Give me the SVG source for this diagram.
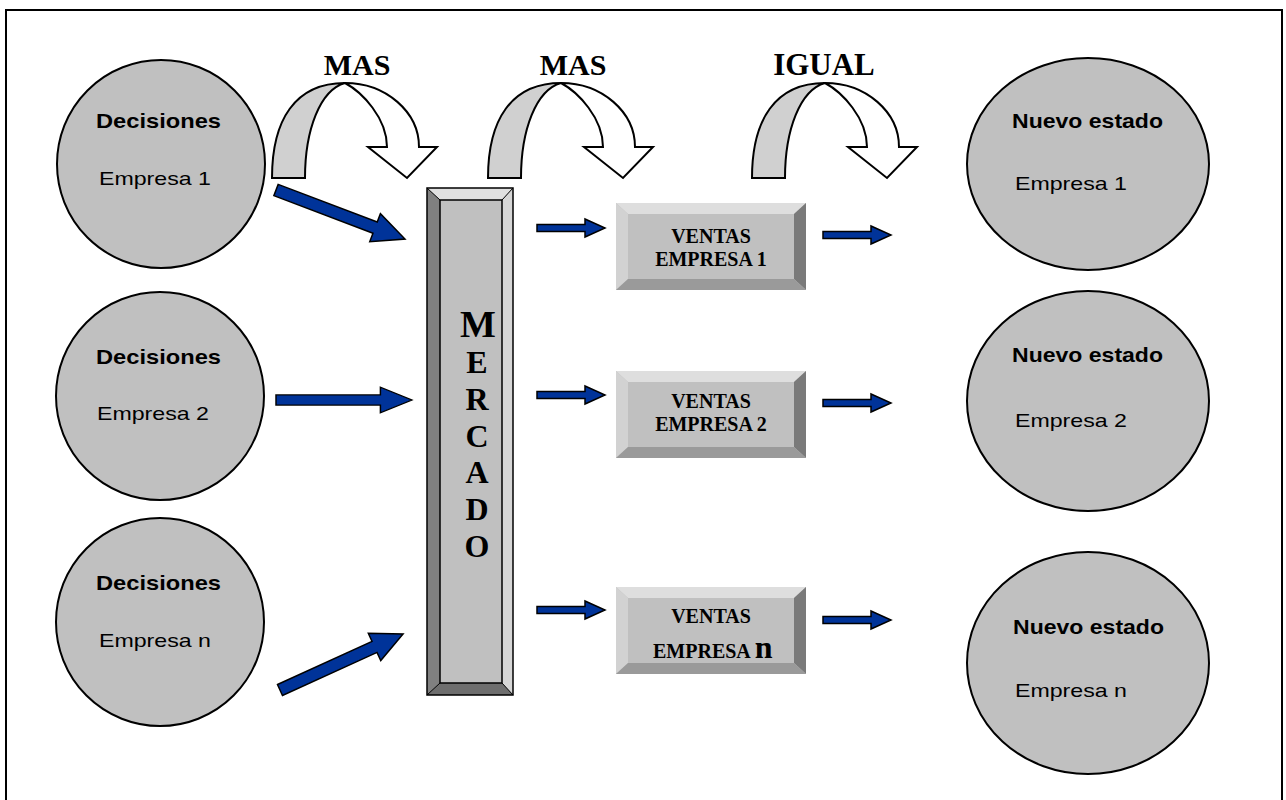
<svg xmlns="http://www.w3.org/2000/svg" width="1286" height="800" viewBox="0 0 1286 800">
<style>
.circ{fill:#c0c0c0;stroke:#000;stroke-width:2}
.sans{font-family:"Liberation Sans",Arial,sans-serif;fill:#000}
.b{font-weight:bold}
.serif{font-family:"Liberation Serif","Times New Roman",serif;font-weight:bold;fill:#000}
.arrow{fill:#003399;stroke:#000;stroke-width:1.5;stroke-linejoin:miter}
.cgray{fill:#d0d0d0;stroke:#000;stroke-width:2}
.cwhite{fill:#fff;stroke:#000;stroke-width:2;stroke-linejoin:miter}
</style>
<defs>
<path id="bigArrow" d="M0,-6 L106,-6 L106,-15 L138,0 L106,15 L106,6 L0,6 Z"/>
<path id="smallArrow" d="M0,-3.5 L48,-3.5 L48,-9 L68,0 L48,9 L48,3.5 L0,3.5 Z"/>
<g id="curveArrow">
<path class="cgray" d="M272,178 C272,120 295,83 345,83 C320,90 305,130 305,178 Z"/>
<path class="cwhite" d="M345,83 C386,83 419,112 419,147 L437,147 L407,178 L368,147 L387,147 C387,118 362,92 345,83 Z"/>
</g>
<g id="ventasBox">
<rect x="0" y="0" width="190" height="87" fill="#c0c0c0"/>
<polygon points="0,0 190,0 178,11 12,11" fill="#dedede"/>
<polygon points="0,0 12,11 12,76 0,87" fill="#d2d2d2"/>
<polygon points="190,0 190,87 178,76 178,11" fill="#7a7a7a"/>
<polygon points="0,87 190,87 178,76 12,76" fill="#9a9a9a"/>
</g>
</defs>
<rect x="0" y="0" width="1286" height="800" fill="#fff"/>
<rect id="frame" x="6" y="10" width="1276" height="820" fill="none" stroke="#000" stroke-width="2"/>

<g id="curve-mas-1"><use href="#curveArrow"/><text class="serif" x="357" y="75" font-size="30" text-anchor="middle">MAS</text></g>
<g id="curve-mas-2"><use href="#curveArrow" transform="translate(216,0)"/><text class="serif" x="573" y="75" font-size="30" text-anchor="middle">MAS</text></g>
<g id="curve-igual"><use href="#curveArrow" transform="translate(480,0)"/><text class="serif" x="824" y="75" font-size="31" text-anchor="middle">IGUAL</text></g>

<g id="decisiones-1"><circle class="circ" cx="161" cy="164" r="104"/>
<text class="sans b" x="96" y="128" font-size="21" textLength="125" lengthAdjust="spacingAndGlyphs">Decisiones</text>
<text class="sans" x="99" y="185" font-size="19" textLength="112" lengthAdjust="spacingAndGlyphs">Empresa 1</text></g>
<g id="decisiones-2"><circle class="circ" cx="160" cy="396" r="104"/>
<text class="sans b" x="96" y="364" font-size="21" textLength="125" lengthAdjust="spacingAndGlyphs">Decisiones</text>
<text class="sans" x="97" y="420" font-size="19" textLength="112" lengthAdjust="spacingAndGlyphs">Empresa 2</text></g>
<g id="decisiones-n"><circle class="circ" cx="160" cy="622" r="104"/>
<text class="sans b" x="96" y="590" font-size="21" textLength="125" lengthAdjust="spacingAndGlyphs">Decisiones</text>
<text class="sans" x="99" y="647" font-size="19" textLength="112" lengthAdjust="spacingAndGlyphs">Empresa n</text></g>

<g id="mercado">
<rect x="427" y="188" width="86" height="507" fill="#c0c0c0"/>
<polygon points="427,188 513,188 502,200 440,200" fill="#e0e0e0"/>
<polygon points="427,188 440,200 440,683 427,695" fill="#808080"/>
<polygon points="513,188 513,695 502,683 502,200" fill="#d6d6d6"/>
<polygon points="427,695 513,695 502,683 440,683" fill="#6e6e6e"/>
<rect x="427" y="188" width="86" height="507" fill="none" stroke="#000" stroke-width="1.5"/>
<rect x="440" y="200" width="62" height="483" fill="none" stroke="#000" stroke-width="1.5"/>
<path d="M427,188 L440,200 M513,188 L502,200 M427,695 L440,683 M513,695 L502,683" stroke="#000" stroke-width="1"/>
<g class="serif" text-anchor="middle">
<text x="478" y="337" font-size="38">M</text>
<text x="477" y="373" font-size="32">E</text>
<text x="477" y="410" font-size="32">R</text>
<text x="477" y="447" font-size="32">C</text>
<text x="477" y="483" font-size="32">A</text>
<text x="477" y="520" font-size="32">D</text>
<text x="477" y="557" font-size="32">O</text>
</g>
</g>

<g id="ventas-1"><use href="#ventasBox" transform="translate(616,203)"/>
<text class="serif" x="711" y="243" font-size="20" text-anchor="middle">VENTAS</text>
<text class="serif" x="711" y="266" font-size="20" text-anchor="middle">EMPRESA 1</text></g>
<g id="ventas-2"><use href="#ventasBox" transform="translate(616,371)"/>
<text class="serif" x="711" y="408" font-size="20" text-anchor="middle">VENTAS</text>
<text class="serif" x="711" y="431" font-size="20" text-anchor="middle">EMPRESA 2</text></g>
<g id="ventas-n"><use href="#ventasBox" transform="translate(616,587)"/>
<text class="serif" x="711" y="623" font-size="20" text-anchor="middle">VENTAS</text>
<text class="serif" x="653" y="658" font-size="20">EMPRESA <tspan font-size="32">n</tspan></text></g>

<g id="nuevo-1"><ellipse class="circ" cx="1088" cy="164" rx="121" ry="106"/>
<text class="sans b" x="1012" y="128" font-size="21" textLength="151" lengthAdjust="spacingAndGlyphs">Nuevo estado</text>
<text class="sans" x="1015" y="190" font-size="19" textLength="112" lengthAdjust="spacingAndGlyphs">Empresa 1</text></g>
<g id="nuevo-2"><ellipse class="circ" cx="1088" cy="401" rx="121" ry="110"/>
<text class="sans b" x="1012" y="362" font-size="21" textLength="151" lengthAdjust="spacingAndGlyphs">Nuevo estado</text>
<text class="sans" x="1015" y="427" font-size="19" textLength="112" lengthAdjust="spacingAndGlyphs">Empresa 2</text></g>
<g id="nuevo-n"><ellipse class="circ" cx="1088" cy="663" rx="121" ry="111"/>
<text class="sans b" x="1013" y="634" font-size="21" textLength="151" lengthAdjust="spacingAndGlyphs">Nuevo estado</text>
<text class="sans" x="1015" y="697" font-size="19" textLength="112" lengthAdjust="spacingAndGlyphs">Empresa n</text></g>

<g id="connectors">
<use href="#bigArrow" class="arrow" transform="translate(276,190) rotate(20.8)"/>
<use href="#bigArrow" class="arrow" transform="translate(276,400) scale(0.985,0.85)"/>
<use href="#bigArrow" class="arrow" transform="translate(280,690) rotate(-24.5) scale(0.98,1)"/>
<use href="#smallArrow" class="arrow" transform="translate(537,228)"/>
<use href="#smallArrow" class="arrow" transform="translate(537,395)"/>
<use href="#smallArrow" class="arrow" transform="translate(537,610)"/>
<use href="#smallArrow" class="arrow" transform="translate(823,235)"/>
<use href="#smallArrow" class="arrow" transform="translate(823,403)"/>
<use href="#smallArrow" class="arrow" transform="translate(823,620)"/>
</g>
</svg>
